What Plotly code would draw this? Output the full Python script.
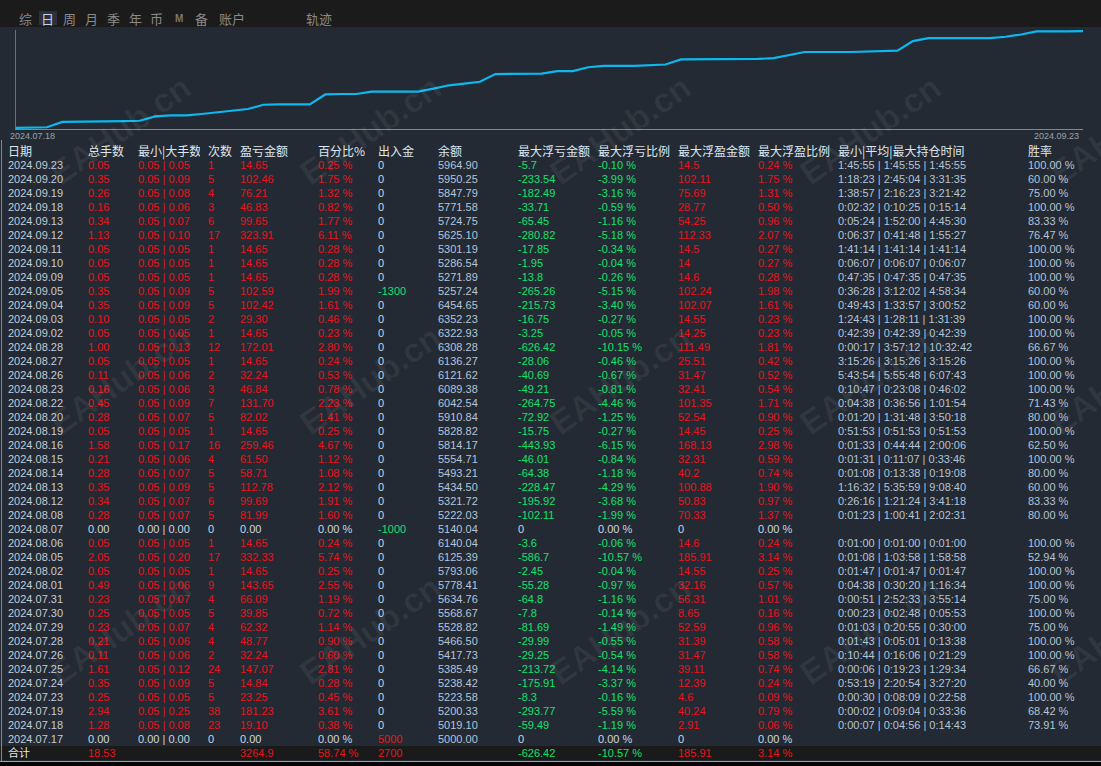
import pandas as pd
import plotly.graph_objects as go

W, H = 1101, 766

# ---------------- data (newest first, as in the table) ----------------
dates = ["2024.09.23", "2024.09.20", "2024.09.19", "2024.09.18", "2024.09.13", "2024.09.12",
         "2024.09.11", "2024.09.10", "2024.09.09", "2024.09.05", "2024.09.04", "2024.09.03",
         "2024.09.02", "2024.08.28", "2024.08.27", "2024.08.26", "2024.08.23", "2024.08.22",
         "2024.08.20", "2024.08.19", "2024.08.16", "2024.08.15", "2024.08.14", "2024.08.13",
         "2024.08.12", "2024.08.08", "2024.08.07", "2024.08.06", "2024.08.05", "2024.08.02",
         "2024.08.01", "2024.07.31", "2024.07.30", "2024.07.29", "2024.07.28", "2024.07.26",
         "2024.07.25", "2024.07.24", "2024.07.23", "2024.07.19", "2024.07.18", "2024.07.17"]
total_lots = [0.05, 0.35, 0.26, 0.16, 0.34, 1.13, 0.05, 0.05, 0.05, 0.35, 0.35, 0.10, 0.05, 1.00,
              0.05, 0.11, 0.16, 0.45, 0.28, 0.05, 1.58, 0.21, 0.28, 0.35, 0.34, 0.28, 0.00, 0.05,
              2.05, 0.05, 0.49, 0.23, 0.25, 0.23, 0.21, 0.11, 1.61, 0.35, 0.25, 2.94, 1.28, 0.00]
min_lots = [0.05] * 26 + [0.00] + [0.05] * 14 + [0.00]
max_lots = [0.05, 0.09, 0.08, 0.06, 0.07, 0.10, 0.05, 0.05, 0.05, 0.09, 0.09, 0.05, 0.05, 0.13,
            0.05, 0.06, 0.06, 0.09, 0.07, 0.05, 0.17, 0.06, 0.07, 0.09, 0.07, 0.07, 0.00, 0.05,
            0.20, 0.05, 0.06, 0.07, 0.05, 0.07, 0.06, 0.06, 0.12, 0.09, 0.05, 0.25, 0.08, 0.00]
trades = [1, 5, 4, 3, 6, 17, 1, 1, 1, 5, 5, 2, 1, 12, 1, 2, 3, 7, 5, 1, 16, 4, 5, 5, 6, 5, 0, 1,
          17, 1, 9, 4, 5, 4, 4, 2, 24, 5, 5, 38, 23, 0]
profit = [14.65, 102.46, 76.21, 46.83, 99.65, 323.91, 14.65, 14.65, 14.65, 102.59, 102.42, 29.30,
          14.65, 172.01, 14.65, 32.24, 46.84, 131.70, 82.02, 14.65, 259.46, 61.50, 58.71, 112.78,
          99.69, 81.99, 0.00, 14.65, 332.33, 14.65, 143.65, 66.09, 39.85, 62.32, 48.77, 32.24,
          147.07, 14.84, 23.25, 181.23, 19.10, 0.00]
profit_pct = [0.25, 1.75, 1.32, 0.82, 1.77, 6.11, 0.28, 0.28, 0.28, 1.99, 1.61, 0.46, 0.23, 2.80,
              0.24, 0.53, 0.78, 2.23, 1.41, 0.25, 4.67, 1.12, 1.08, 2.12, 1.91, 1.60, 0.00, 0.24,
              5.74, 0.25, 2.55, 1.19, 0.72, 1.14, 0.90, 0.60, 2.81, 0.28, 0.45, 3.61, 0.38, 0.00]
cash_flow = [0, 0, 0, 0, 0, 0, 0, 0, 0, -1300, 0, 0, 0, 0, 0, 0, 0, 0, 0, 0, 0, 0, 0, 0, 0, 0,
             -1000, 0, 0, 0, 0, 0, 0, 0, 0, 0, 0, 0, 0, 0, 0, 5000]
balance = [5964.90, 5950.25, 5847.79, 5771.58, 5724.75, 5625.10, 5301.19, 5286.54, 5271.89,
           5257.24, 6454.65, 6352.23, 6322.93, 6308.28, 6136.27, 6121.62, 6089.38, 6042.54,
           5910.84, 5828.82, 5814.17, 5554.71, 5493.21, 5434.50, 5321.72, 5222.03, 5140.04,
           6140.04, 6125.39, 5793.06, 5778.41, 5634.76, 5568.67, 5528.82, 5466.50, 5417.73,
           5385.49, 5238.42, 5223.58, 5200.33, 5019.10, 5000.00]
float_loss = [-5.7, -233.54, -182.49, -33.71, -65.45, -280.82, -17.85, -1.95, -13.8, -265.26,
              -215.73, -16.75, -3.25, -626.42, -28.06, -40.69, -49.21, -264.75, -72.92, -15.75,
              -443.93, -46.01, -64.38, -228.47, -195.92, -102.11, 0, -3.6, -586.7, -2.45, -55.28,
              -64.8, -7.8, -81.69, -29.99, -29.25, -213.72, -175.91, -8.3, -293.77, -59.49, 0]
float_loss_pct = [-0.10, -3.99, -3.16, -0.59, -1.16, -5.18, -0.34, -0.04, -0.26, -5.15, -3.40,
                  -0.27, -0.05, -10.15, -0.46, -0.67, -0.81, -4.46, -1.25, -0.27, -6.15, -0.84,
                  -1.18, -4.29, -3.68, -1.99, 0.00, -0.06, -10.57, -0.04, -0.97, -1.16, -0.14,
                  -1.49, -0.55, -0.54, -4.14, -3.37, -0.16, -5.59, -1.19, 0.00]
float_profit = [14.5, 102.11, 75.69, 28.77, 54.25, 112.33, 14.5, 14, 14.6, 102.24, 102.07, 14.55,
                14.25, 111.49, 25.51, 31.47, 32.41, 101.35, 52.54, 14.45, 168.13, 32.31, 40.2,
                100.88, 50.83, 70.33, 0, 14.6, 185.91, 14.55, 32.16, 56.31, 8.65, 52.59, 31.39,
                31.47, 39.11, 12.39, 4.6, 40.24, 2.91, 0]
float_profit_pct = [0.24, 1.75, 1.31, 0.50, 0.96, 2.07, 0.27, 0.27, 0.28, 1.98, 1.61, 0.23, 0.23,
                    1.81, 0.42, 0.52, 0.54, 1.71, 0.90, 0.25, 2.98, 0.59, 0.74, 1.90, 0.97, 1.37,
                    0.00, 0.24, 3.14, 0.25, 0.57, 1.01, 0.16, 0.96, 0.58, 0.58, 0.74, 0.24, 0.09,
                    0.79, 0.06, 0.00]
hold_min = ["1:45:55", "1:18:23", "1:38:57", "0:02:32", "0:05:24", "0:06:37", "1:41:14", "0:06:07",
            "0:47:35", "0:36:28", "0:49:43", "1:24:43", "0:42:39", "0:00:17", "3:15:26", "5:43:54",
            "0:10:47", "0:04:38", "0:01:20", "0:51:53", "0:01:33", "0:01:31", "0:01:08", "1:16:32",
            "0:26:16", "0:01:23", "", "0:01:00", "0:01:08", "0:01:47", "0:04:38", "0:00:51",
            "0:00:23", "0:01:03", "0:01:43", "0:10:44", "0:00:06", "0:53:19", "0:00:30", "0:00:02",
            "0:00:07", ""]
hold_avg = ["1:45:55", "2:45:04", "2:16:23", "0:10:25", "1:52:00", "0:41:48", "1:41:14", "0:06:07",
            "0:47:35", "3:12:02", "1:33:57", "1:28:11", "0:42:39", "3:57:12", "3:15:26", "5:55:48",
            "0:23:08", "0:36:56", "1:31:48", "0:51:53", "0:44:44", "0:11:07", "0:13:38", "5:35:59",
            "1:21:24", "1:00:41", "", "0:01:00", "1:03:58", "0:01:47", "0:30:20", "2:52:33",
            "0:02:48", "0:20:55", "0:05:01", "0:16:06", "0:19:23", "2:20:54", "0:08:09", "0:09:04",
            "0:04:56", ""]
hold_max = ["1:45:55", "3:31:35", "3:21:42", "0:15:14", "4:45:30", "1:55:27", "1:41:14", "0:06:07",
            "0:47:35", "4:58:34", "3:00:52", "1:31:39", "0:42:39", "10:32:42", "3:15:26", "6:07:43",
            "0:46:02", "1:01:54", "3:50:18", "0:51:53", "2:00:06", "0:33:46", "0:19:08", "9:08:40",
            "3:41:18", "2:02:31", "", "0:01:00", "1:58:58", "0:01:47", "1:16:34", "3:55:14",
            "0:05:53", "0:30:00", "0:13:38", "0:21:29", "1:29:34", "3:27:20", "0:22:58", "0:33:36",
            "0:14:43", ""]
win_rate = [100.00, 60.00, 75.00, 100.00, 83.33, 76.47, 100.00, 100.00, 100.00, 60.00, 60.00,
            100.00, 100.00, 66.67, 100.00, 100.00, 100.00, 71.43, 80.00, 100.00, 62.50, 100.00,
            80.00, 60.00, 83.33, 80.00, None, 100.00, 52.94, 100.00, 100.00, 75.00, 100.00, 75.00,
            100.00, 100.00, 66.67, 40.00, 100.00, 68.42, 73.91, None]

total_label = "合计"
total_lots_sum = 18.53
total_profit = 3264.9
total_profit_pct = 58.74
total_cash_flow = 2700
total_float_loss = -626.42
total_float_loss_pct = -10.57
total_float_profit = 185.91
total_float_profit_pct = 3.14

header_labels = ["日期", "总手数", "最小|大手数", "次数", "盈亏金额", "百分比%", "出入金", "余额",
                 "最大浮亏金额", "最大浮亏比例", "最大浮盈金额", "最大浮盈比例",
                 "最小|平均|最大持仓时间", "胜率"]
nav_labels = ["综", "日", "周", "月", "季", "年", "币", "M", "备", "账户", "轨迹"]
axis_labels = ["2024.07.18", "2024.09.23"]
watermark_text = "EAHub.cn"

# ---------------- styles ----------------
BG = "#232a33"
TOPBAR = "#1b1b1b"
RED = "#e8141c"
GREEN = "#14e06c"
ZERO = "#cdd6e0"
DATEC = "#c3ccd8"
BALC = "#b3c5dc"
TIMEC = "#b5c4d8"
HEADC = "#dfe6ee"
LINEC = "#0db8f0"
NUMFONT = "Liberation Sans, Arial, Noto Sans CJK SC"
CJKFONT = "Noto Sans CJK SC"
NB = "\u00a0"  # non-breaking space keeps each cell on one line


def fx(px):
    return px / W


def fy(py):
    return 1 - py / H


# ---------------- equity curve (cumulative daily P/L) ----------------
xs, ys = [], []
cum = 0.0
for i in range(len(dates) - 1, -1, -1):
    d = pd.Timestamp(dates[i].replace(".", "-"))
    xs.append(d)
    ys.append(round(cum, 2))
    cum += profit[i]
    xs.append(d + pd.Timedelta(days=1))
    ys.append(round(cum, 2))

fig = go.Figure()
fig.add_trace(go.Scatter(x=xs, y=ys, mode="lines", line=dict(color=LINEC, width=2.2),
                         hoverinfo="skip", showlegend=False))

# ---------------- table ----------------
ncol = 14
txt = [[] for _ in range(ncol)]
col = [[] for _ in range(ncol)]

for i in range(len(dates)):
    zero = trades[i] == 0
    main = ZERO if zero else RED
    grn = ZERO if zero else GREEN
    flow_c = GREEN if cash_flow[i] < 0 else (RED if cash_flow[i] > 0 else ZERO)
    hold = f"{hold_min[i]}{NB}|{NB}{hold_avg[i]}{NB}|{NB}{hold_max[i]}" if hold_min[i] else ""
    row = [
        (dates[i], DATEC),
        (f"{total_lots[i]:.2f}", main),
        (f"{min_lots[i]:.2f}{NB}|{NB}{max_lots[i]:.2f}", main),
        (f"{trades[i]}", main),
        (f"{profit[i]:.2f}", main),
        (f"{profit_pct[i]:.2f}{NB}%", main),
        (f"{cash_flow[i]}", flow_c),
        (f"{balance[i]:.2f}", BALC),
        (f"{float_loss[i]:g}", grn),
        (f"{float_loss_pct[i]:.2f}{NB}%", grn),
        (f"{float_profit[i]:g}", main),
        (f"{float_profit_pct[i]:.2f}{NB}%", main),
        (hold, TIMEC),
        (f"{win_rate[i]:.2f}{NB}%" if win_rate[i] is not None else "", TIMEC),
    ]
    for k, (t, c) in enumerate(row):
        txt[k].append(t)
        col[k].append(c)

total_row = [
    (total_label, "#e3e8ee"),
    (f"{total_lots_sum:.2f}", RED),
    ("", RED),
    ("", RED),
    (f"{total_profit:g}", RED),
    (f"{total_profit_pct:.2f}{NB}%", RED),
    (f"{total_cash_flow}", RED),
    ("", RED),
    (f"{total_float_loss:g}", GREEN),
    (f"{total_float_loss_pct:.2f}{NB}%", GREEN),
    (f"{total_float_profit:g}", RED),
    (f"{total_float_profit_pct:.2f}{NB}%", RED),
    ("", RED),
    ("", RED),
]
for k, (t, c) in enumerate(total_row):
    txt[k].append(t)
    col[k].append(c)

col_widths = [80, 50, 70, 32, 78, 60, 60, 80, 80, 80, 80, 80, 190, 81]
CLEAR = "rgba(0,0,0,0)"

fig.add_trace(go.Table(
    domain=dict(x=[0, 1], y=[0, fy(139)]),
    columnwidth=col_widths,
    header=dict(values=header_labels, height=14, align="left",
                fill=dict(color=CLEAR), line=dict(color=CLEAR, width=0),
                font=dict(family=CJKFONT, size=12, color=HEADC)),
    cells=dict(values=txt, height=14, align="left",
               fill=dict(color=CLEAR), line=dict(color=CLEAR, width=0),
               font=dict(family=NUMFONT, size=11, color=col)),
))

# ---------------- layout decorations ----------------
shapes = [
    dict(type="rect", xref="paper", yref="paper", x0=0, x1=1, y0=fy(27), y1=1,
         fillcolor=TOPBAR, line=dict(width=0), layer="below"),
    dict(type="rect", xref="paper", yref="paper", x0=fx(39), x1=fx(57), y0=fy(25), y1=fy(11),
         fillcolor="#2a313a", line=dict(width=0), layer="below"),
    dict(type="rect", xref="paper", yref="paper", x0=0, x1=1, y0=fy(760), y1=fy(746),
         fillcolor="#1a1a1a", line=dict(width=0), layer="below"),
    dict(type="rect", xref="paper", yref="paper", x0=0, x1=1, y0=0, y1=fy(762),
         fillcolor="#050505", line=dict(width=0), layer="below"),
    dict(type="line", xref="paper", yref="paper", x0=0, x1=1, y0=fy(761.5), y1=fy(761.5),
         line=dict(color="#9aa6b4", width=1)),
    dict(type="line", xref="paper", yref="paper", x0=fx(1.5), x1=fx(1.5), y0=fy(761.5), y1=fy(140),
         line=dict(color="#7d8a9a", width=1)),
]

annotations = []
nav_x = [25, 47, 69, 91, 113, 135, 156, 179, 201, 232, 319]
for lab, px in zip(nav_labels, nav_x):
    is_sel = lab == "日"
    is_m = lab == "M"
    annotations.append(dict(
        x=fx(px), y=fy(18.5), xref="paper", yref="paper", text=f"<b>{lab}</b>" if is_m else lab,
        showarrow=False, xanchor="center", yanchor="middle",
        font=dict(family=CJKFONT if not is_m else "Liberation Sans", size=13 if not is_m else 10,
                  color="#c6d4e4" if is_sel else ("#7d766c" if is_m else "#8a8a8a"))))

annotations.append(dict(x=fx(8), y=fy(129), xref="paper", yref="paper", text=axis_labels[0],
                        showarrow=False, xanchor="left", yanchor="top",
                        font=dict(family="Liberation Sans", size=9, color="#98a2ad")))
annotations.append(dict(x=fx(1081), y=fy(129), xref="paper", yref="paper", text=axis_labels[1],
                        showarrow=False, xanchor="right", yanchor="top",
                        font=dict(family="Liberation Sans", size=9, color="#98a2ad")))

for cy in [130, 380, 630]:
    for cx in [120, 370, 620, 870, 1120]:
        annotations.append(dict(x=fx(cx), y=fy(cy), xref="paper", yref="paper",
                                text=f"<b>{watermark_text}</b>", showarrow=False,
                                textangle=-35, xanchor="center", yanchor="middle",
                                font=dict(family="Liberation Sans", size=34,
                                          color="rgba(255,255,255,0.06)")))

fig.update_layout(
    width=W, height=H,
    margin=dict(l=0, r=0, t=0, b=0),
    paper_bgcolor=BG, plot_bgcolor=BG,
    showlegend=False,
    xaxis=dict(domain=[fx(16), fx(1083)], type="date",
               range=[pd.Timestamp("2024-07-17"), pd.Timestamp("2024-09-24")],
               showline=True, linecolor="#80868e", linewidth=1, showgrid=False,
               zeroline=False, showticklabels=False, ticks="", fixedrange=True),
    yaxis=dict(domain=[fy(129), fy(30)], range=[-40, 3300],
               showline=True, linecolor="#6a7078", linewidth=1, showgrid=False,
               zeroline=False, showticklabels=False, ticks="", fixedrange=True),
    shapes=shapes,
    annotations=annotations,
)

fig.write_html("out.html", config={"displayModeBar": False},
               post_script="document.body.style.margin='0px';")
